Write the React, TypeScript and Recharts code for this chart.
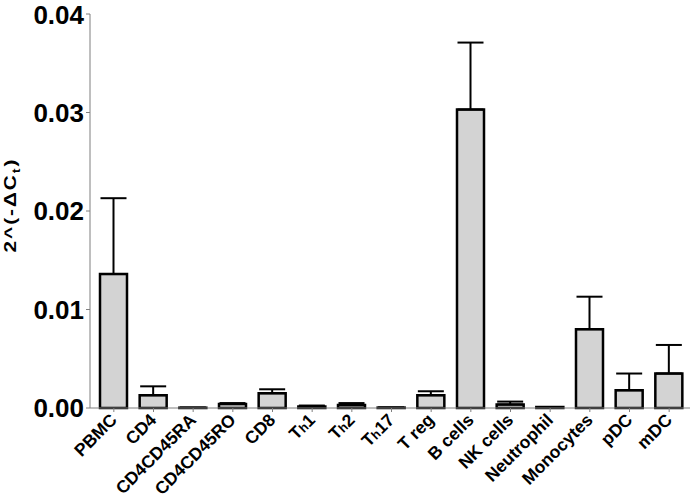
import React from 'react';
import { BarChart, Bar, XAxis, YAxis, ErrorBar } from 'recharts';

const categories = ['PBMC', 'CD4', 'CD4CD45RA', 'CD4CD45RO', 'CD8', 'Th1', 'Th2', 'Th17', 'T reg', 'B cells', 'NK cells', 'Neutrophil', 'Monocytes', 'pDC', 'mDC'];
const means = [0.0136, 0.0013, 0.00003, 0.0004, 0.0015, 0.00015, 0.0003, 0.00004, 0.0013, 0.0303, 0.00035, 0.0001, 0.008, 0.0018, 0.0035];
const errors = [0.0077, 0.0009, 0, 0.0001, 0.0004, 0.0001, 0.0002, 0, 0.0004, 0.0068, 0.0003, 0, 0.0033, 0.0017, 0.0029];
const yTicks = [0, 0.01, 0.02, 0.03, 0.04];

const data = categories.map((name, i) => ({ name, value: means[i], err: [0, errors[i]] }));

const FONT = '"Liberation Sans", Arial, sans-serif';

// "Th1" etc. get a small h like the original
const XTick = (props: any) => {
  const { x, y, payload } = props;
  const label: string = payload.value;
  const m = /^T(h)(\d+)$/.exec(label);
  return (
    <g transform={`translate(${x + 4},${y + 7}) rotate(-45)`}>
      <text x={0} y={0} textAnchor="end" fontFamily={FONT} fontWeight="bold" fontSize={17.5} fill="#000">
        {m ? (
          <>
            <tspan>T</tspan>
            <tspan fontSize={12.5}>h</tspan>
            <tspan>{m[2]}</tspan>
          </>
        ) : label}
      </text>
    </g>
  );
};

// the original label is drawn wide, so stretch it along its direction
const YLabel = () => (
  <text
    transform="translate(16,205) rotate(-90) scale(1.3,1)"
    textAnchor="middle"
    fontFamily={FONT}
    fontWeight="bold"
    fontSize={16}
    letterSpacing={1.5}
    fill="#000"
  >
    <tspan>2^(-ΔC</tspan>
    <tspan fontSize={11} dy={4}>t</tspan>
    <tspan dy={-4}>)</tspan>
  </text>
);

export default function App() {
  return (
    <div style={{ position: 'absolute', left: 0, top: 0, background: '#fff' }}>
      <BarChart
        width={693}
        height={502}
        data={data}
        margin={{ top: 14, right: 3, bottom: 0, left: 10 }}
        barSize={27}
      >
        <XAxis
          dataKey="name"
          interval={0}
          height={94}
          padding={{ left: 4, right: 1 }}
          stroke="#7f7f7f"
          tickSize={4}
          tickLine={{ stroke: '#7f7f7f' }}
          tick={<XTick />}
        />
        <YAxis
          width={80}
          domain={[0, 0.04]}
          ticks={yTicks}
          tickFormatter={(v: number) => v.toFixed(2)}
          stroke="#7f7f7f"
          tickSize={4}
          tickLine={{ stroke: '#7f7f7f' }}
          tick={{ fill: '#000', fontSize: 26, fontWeight: 'bold', fontFamily: FONT }}
          label={{ content: () => <YLabel /> }}
        />
        <Bar dataKey="value" fill="#d3d3d3" stroke="#000" strokeWidth={2.5} isAnimationActive={false}>
          <ErrorBar dataKey="err" width={13} stroke="#000" strokeWidth={2} direction="y" />
        </Bar>
      </BarChart>
    </div>
  );
}
